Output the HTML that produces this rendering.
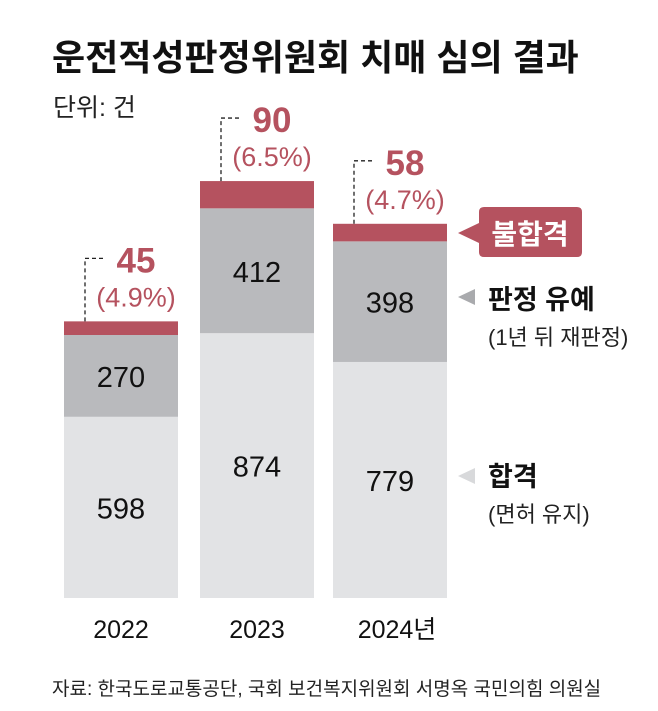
<!DOCTYPE html>
<html><head><meta charset="utf-8">
<style>
body{margin:0;background:#fff;}
svg{display:block;font-family:"Liberation Sans","Noto Sans CJK KR",sans-serif;}
</style></head>
<body>
<svg id="chart" width="658" height="711" viewBox="0 0 658 711">
<text x="52" y="70" font-size="36" font-weight="bold" fill="#111">운전적성판정위원회 치매 심의 결과</text>
<text x="53" y="116" font-size="25" fill="#222">단위: 건</text>
<g id="bars"></g>
<g>
<path d="M479 212 Q479 207 484 207 L577 207 Q582 207 582 212 L582 252 Q582 257 577 257 L484 257 Q479 257 479 252 L479 243 L458 233 L479 223 Z" fill="#b5525f"/>
<text x="530" y="244" font-size="28" font-weight="bold" fill="#fff" text-anchor="middle">불합격</text>
<polygon points="458,297 475,289 475,305" fill="#a9aaad"/>
<text x="488" y="309" font-size="27" font-weight="bold" fill="#111">판정 유예</text>
<text x="488" y="345" font-size="22" fill="#222">(1년 뒤 재판정)</text>
<polygon points="458,476 475,468 475,484" fill="#d8d9db"/>
<text x="488" y="486" font-size="27" font-weight="bold" fill="#111">합격</text>
<text x="488" y="522" font-size="22" fill="#222">(면허 유지)</text>
</g>
<text x="52" y="695" font-size="19" fill="#222">자료: 한국도로교통공단, 국회 보건복지위원회 서명옥 국민의힘 의원실</text>
</svg>
<script>
const categories=["2022","2023","2024년"];
const passed=[598,874,779];
const deferred=[270,412,398];
const failed=[45,90,58];
const failPct=["(4.9%)","(6.5%)","(4.7%)"];
const NS="http://www.w3.org/2000/svg";
const base=598, k=0.303, barW=114, x0=[64,200,333];
function y(v){return base-v*k;}
const g=document.getElementById('bars');
function el(t,a,txt){const e=document.createElementNS(NS,t);for(const q in a)e.setAttribute(q,a[q]);if(txt!==undefined)e.textContent=txt;g.appendChild(e);return e;}
categories.forEach((c,i)=>{
  const x=x0[i];
  const p=passed[i],d=deferred[i],f=failed[i];
  let r=el('rect',{x:x,y:y(p),width:barW,height:p*k,fill:'#e2e3e5'});
  
  
  r=el('rect',{x:x,y:y(p+d),width:barW,height:d*k,fill:'#b9babd'});
  
  
  r=el('rect',{x:x,y:y(p+d+f),width:barW,height:f*k,fill:'#b5525f'});
  
  
  const cx=x+barW/2;
  let t=el('text',{x:cx,y:(y(p)+base)/2+11,'font-size':29,'text-anchor':'middle',fill:'#111'},String(p));
  
  
  t=el('text',{x:cx,y:(y(p)+y(p+d))/2+11,'font-size':29,'text-anchor':'middle',fill:'#111'},String(d));
  
  
  const top=y(p+d+f);
  let ln=el('path',{d:`M${x+21} ${top} L${x+21} ${top-63} L${x+41} ${top-63}`,stroke:'#222','stroke-width':1.3,'stroke-dasharray':'4,3',fill:'none'});
  
  
  t=el('text',{x:x+72,y:top-49,'font-size':35,'font-weight':'bold','text-anchor':'middle',fill:'#b5525f'},String(f));
  
  
  t=el('text',{x:x+72,y:top-15,'font-size':27,'text-anchor':'middle',fill:'#b5525f'},failPct[i]);
  
  
  t=el('text',{x:cx+(i==2?7:0),y:638,'font-size':25,'text-anchor':'middle',fill:'#111'},c);
  
  
});
</script>
</body></html>
